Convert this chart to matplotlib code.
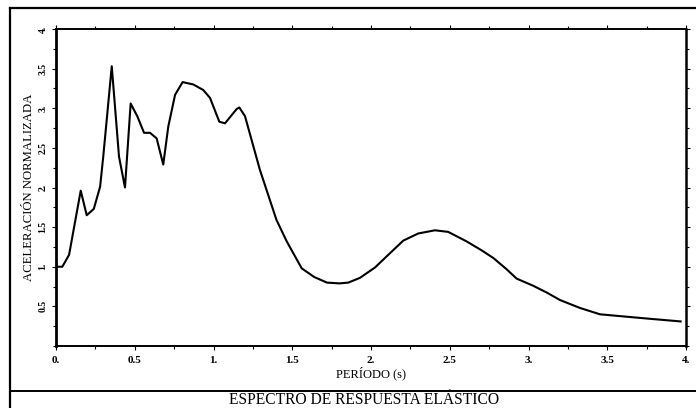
import matplotlib
matplotlib.use("Agg")
import matplotlib.pyplot as plt
from matplotlib.lines import Line2D
from matplotlib.ticker import MultipleLocator

# Elastic response spectrum: period (s) vs normalized acceleration
periodo = [0.0, 0.04, 0.083, 0.157, 0.195, 0.24, 0.28, 0.30, 0.354, 0.40, 0.438,
           0.474, 0.516, 0.559, 0.597, 0.639, 0.681, 0.713, 0.756, 0.804, 0.872,
           0.935, 0.978, 1.037, 1.073, 1.147, 1.164, 1.20, 1.295, 1.40, 1.465,
           1.56, 1.64, 1.72, 1.80, 1.856, 1.93, 2.025, 2.12, 2.205, 2.30, 2.406,
           2.49, 2.607, 2.70, 2.777, 2.86, 2.925, 3.03, 3.12, 3.20, 3.327, 3.454,
           3.62, 3.79, 3.966]
aceleracion = [1.0, 1.0, 1.15, 1.96, 1.65, 1.73, 2.01, 2.39, 3.53, 2.39, 2.0,
               3.06, 2.9, 2.69, 2.69, 2.62, 2.29, 2.77, 3.17, 3.33, 3.30,
               3.23, 3.13, 2.83, 2.81, 2.99, 3.01, 2.9, 2.22, 1.59, 1.32,
               0.98, 0.87, 0.80, 0.79, 0.80, 0.86, 0.99, 1.17, 1.33, 1.42, 1.46,
               1.44, 1.32, 1.21, 1.11, 0.97, 0.85, 0.76, 0.67, 0.58, 0.48, 0.40,
               0.37, 0.34, 0.31]

xticks = [0, 0.5, 1, 1.5, 2, 2.5, 3, 3.5, 4]
yticks = [0.5, 1, 1.5, 2, 2.5, 3, 3.5, 4]

serif = ["Liberation Serif", "DejaVu Serif"]
plt.rcParams["font.family"] = serif

W, H = 696, 408
fig = plt.figure(figsize=(W / 100, H / 100), dpi=100)
fig.patch.set_facecolor("white")

def fx(px):
    return px / W

def fy(py):
    return 1 - py / H

ax = fig.add_axes([fx(56), fy(346), fx(686) - fx(56), fy(29) - fy(346)])
ax.plot(periodo, aceleracion, color="black", lw=1.5, solid_joinstyle="round")
ax.set_xlim(0, 4)
ax.set_ylim(0, 4)

def fmt(v):
    if abs(v - round(v)) < 1e-9:
        return f"{int(round(v))}."
    return f"{v:g}"

ax.set_xticks(xticks)
ax.set_xticklabels([fmt(v) for v in xticks], fontsize=8, fontweight="bold")
ax.set_yticks(yticks)
ax.set_yticklabels([fmt(v) for v in yticks], fontsize=7, fontweight="bold",
                   rotation=90, va="center")
ax.xaxis.set_minor_locator(MultipleLocator(0.25))
ax.yaxis.set_minor_locator(MultipleLocator(0.25))
ax.tick_params(which="both", direction="out", top=True, right=True, width=0.8)
ax.tick_params(which="major", length=3, pad=4)
ax.tick_params(which="minor", length=2)
ax.tick_params(axis="y", pad=3)
for s in ax.spines.values():
    s.set_linewidth(1.4)
ax.spines["left"].set_linewidth(2.0)
ax.spines["right"].set_linewidth(1.8)

ax.set_xlabel("PERÍODO (s)", fontsize=9, labelpad=1)
ax.set_ylabel("ACELERACIÓN NORMALIZADA", fontsize=9.2, labelpad=3)

# outer frame lines
fig.add_artist(Line2D([fx(10), 1], [fy(8), fy(8)], color="black", lw=1.6))
fig.add_artist(Line2D([fx(10), fx(10)], [fy(8), 0], color="black", lw=1.6))
fig.add_artist(Line2D([fx(10), 1], [fy(391), fy(391)], color="black", lw=1.4))

fig.text(fx(364), fy(400), "ESPECTRO DE RESPUESTA ELÁSTICO", ha="center",
         va="center", fontsize=11.2)

fig.savefig("out.png", dpi=100)
